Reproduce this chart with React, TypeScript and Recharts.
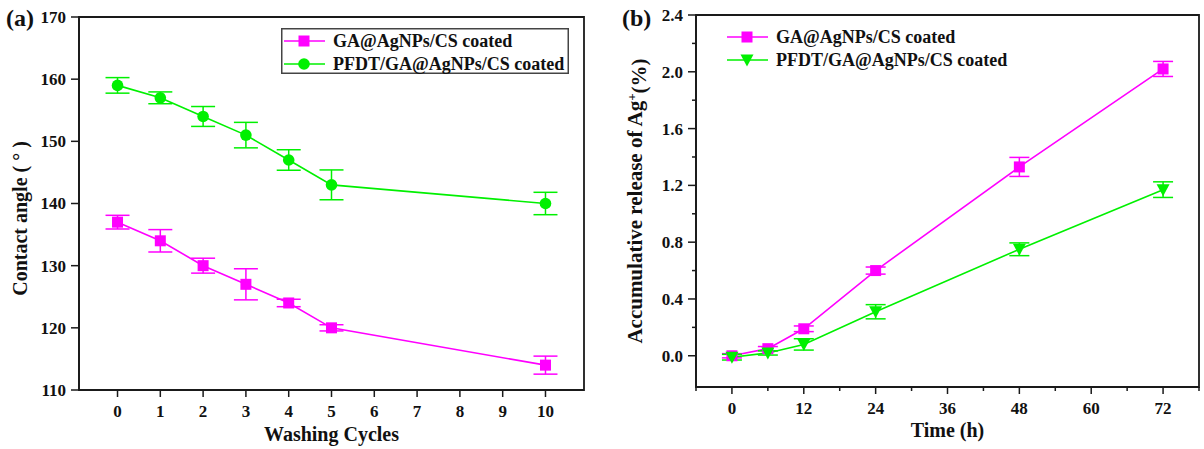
import React from "react";
import { LineChart, Line, XAxis, YAxis, ErrorBar, ReferenceArea, Legend } from "recharts";

// (a) contact angle vs washing cycles
const cycles = [0, 1, 2, 3, 4, 5, 10];
const gaAngle = [137, 134, 130, 127, 124, 120, 114];
const gaAngleErr = [1.1, 1.8, 1.2, 2.5, 0.6, 0.5, 1.45];
const pfdtAngle = [159, 157, 154, 151, 147, 143, 140];
const pfdtAngleErr = [1.25, 0.95, 1.6, 2.05, 1.65, 2.4, 1.8];
const cycleTicks = [0, 1, 2, 3, 4, 5, 6, 7, 8, 9, 10];
const angleTicks = [110, 120, 130, 140, 150, 160, 170];

// (b) Ag+ release vs time
const hours = [0, 6, 12, 24, 48, 72];
const gaRelease = [0, 0.05, 0.19, 0.6, 1.33, 2.02];
const gaReleaseErr = [0.015, 0.015, 0.02, 0.025, 0.067, 0.053];
const pfdtRelease = [-0.01, 0.02, 0.08, 0.31, 0.75, 1.17];
const pfdtReleaseErr = [0.02, 0.015, 0.04, 0.05, 0.045, 0.055];
const hourTicks = [-6, 0, 6, 12, 18, 24, 30, 36, 42, 48, 54, 60, 66, 72, 78];
const hourLabels = [0, 12, 24, 36, 48, 60, 72];
const releaseTicks = [0, 0.2, 0.4, 0.6, 0.8, 1, 1.2, 1.4, 1.6, 1.8, 2, 2.2, 2.4];
const releaseLabels = [0, 0.4, 0.8, 1.2, 1.6, 2, 2.4];

const MAGENTA = "#ff00ff";
const GREEN = "#00f000";
const INK = "#1a1a1a";
const FONT = '"Liberation Serif", "Times New Roman", serif';

const angleData = cycles.map((c, i) => ({
  cycle: c,
  ga: gaAngle[i],
  gaErr: gaAngleErr[i],
  pfdt: pfdtAngle[i],
  pfdtErr: pfdtAngleErr[i],
}));

const releaseData = hours.map((h, i) => ({
  time: h,
  ga: gaRelease[i],
  gaErr: gaReleaseErr[i],
  pfdt: pfdtRelease[i],
  pfdtErr: pfdtReleaseErr[i],
}));

type Shape = "square" | "circle" | "triangle";

function Marker({ shape, cx, cy, color }: { shape: Shape; cx: number; cy: number; color: string }) {
  if (shape === "square") return <rect x={cx - 5.5} y={cy - 5.5} width={11} height={11} fill={color} />;
  if (shape === "circle") return <circle cx={cx} cy={cy} r={5.8} fill={color} />;
  return <polygon points={`${cx - 6.5},${cy - 5.5} ${cx + 6.5},${cy - 5.5} ${cx},${cy + 6.5}`} fill={color} />;
}

const dotOf = (shape: Shape, color: string) => (p: any) => {
  if (p.cx == null || p.cy == null) return <g key={`d-${p.index}`} />;
  return <Marker key={`d-${shape}-${p.index}`} shape={shape} cx={p.cx} cy={p.cy} color={color} />;
};

const xTick = (labels: number[] | null) => (p: any) => {
  const v = p.payload.value;
  const major = !labels || labels.includes(v);
  return (
    <g>
      <line x1={p.x} x2={p.x} y1={p.y} y2={p.y + (major ? 7 : 4)} stroke={INK} strokeWidth={1.5} />
      {major && (
        <text x={p.x} y={p.y + 27} textAnchor="middle" fontFamily={FONT} fontWeight="bold" fontSize={17} fill="#111">
          {v}
        </text>
      )}
    </g>
  );
};

const yTick = (labels: number[] | null, fmt: (v: number) => string) => (p: any) => {
  const v = p.payload.value;
  const major = !labels || labels.some((l) => Math.abs(l - v) < 1e-6);
  return (
    <g>
      <line x1={p.x} x2={p.x - (major ? 8 : 4)} y1={p.y} y2={p.y} stroke={INK} strokeWidth={1.5} />
      {major && (
        <text x={p.x - 13} y={p.y} dy="0.35em" textAnchor="end" fontFamily={FONT} fontWeight="bold" fontSize={17} fill="#111">
          {fmt(v)}
        </text>
      )}
    </g>
  );
};

const XTitle = ({ viewBox, text, dy }: any) => (
  <text x={viewBox.x + viewBox.width / 2} y={viewBox.y + dy} textAnchor="middle" fontFamily={FONT} fontWeight="bold" fontSize={20} fill="#111">
    {text}
  </text>
);

const YTitle = ({ viewBox, children, cx, cyShift, tag, tagX, size = 20 }: any) => {
  const cy = viewBox.y + viewBox.height / 2 + cyShift;
  return (
    <g>
      <text x={tagX} y={26} fontFamily={FONT} fontWeight="bold" fontSize={24} fill="#111">
        {tag}
      </text>
      <text
        x={cx}
        y={cy}
        transform={`rotate(-90, ${cx}, ${cy})`}
        textAnchor="middle"
        dy="0.35em"
        fontFamily={FONT}
        fontWeight="bold"
        fontSize={size}
        fill="#111"
      >
        {children}
      </text>
    </g>
  );
};

const shapeMap: Record<string, Record<string, Shape>> = {
  a: { ga: "square", pfdt: "circle" },
  b: { ga: "square", pfdt: "triangle" },
};

const LegendRows = ({ payload, panel, boxed }: any) => {
  const w = boxed ? 288 : 300;
  const h = boxed ? 46 : 50;
  const x0 = boxed ? 3 : 0;
  const y0 = boxed ? 13 : 10;
  return (
    <svg width={w} height={h} style={{ display: "block", overflow: "visible" }}>
      {boxed && <rect x={0.75} y={0.75} width={w - 1.5} height={h - 1.5} fill="#fff" stroke="#444" strokeWidth={1.5} />}
      {(payload || []).map((e: any, i: number) => {
        const y = y0 + i * 23;
        return (
          <g key={e.value}>
            <line x1={x0} x2={x0 + 41} y1={y} y2={y} stroke={e.color} strokeWidth={1.6} />
            <Marker shape={shapeMap[panel][e.dataKey]} cx={x0 + 20} cy={y} color={e.color} />
            <text x={x0 + 49} y={y} dy="0.35em" fontFamily={FONT} fontWeight="bold" fontSize={18} fill="#111">
              {e.value}
            </text>
          </g>
        );
      })}
    </svg>
  );
};

function ContactAngleChart() {
  return (
    <LineChart width={600} height={449} data={angleData} margin={{ top: 17, right: 16, bottom: 0, left: 0 }}>
      <XAxis
        dataKey="cycle"
        type="number"
        domain={[-0.9, 10.9]}
        allowDataOverflow
        ticks={cycleTicks}
        interval={0}
        height={59}
        tickSize={0}
        tickMargin={0}
        tickLine={false}
        tick={xTick(null)}
        axisLine={{ stroke: INK, strokeWidth: 1.8 }}
        label={<XTitle text="Washing Cycles" dy={51} />}
      />
      <YAxis
        type="number"
        domain={[110, 170]}
        allowDataOverflow
        ticks={angleTicks}
        interval={0}
        width={79}
        tickSize={0}
        tickMargin={0}
        tickLine={false}
        tick={yTick(null, (v) => String(v))}
        axisLine={{ stroke: INK, strokeWidth: 1.8 }}
        label={
          <YTitle cx={20} cyShift={15} tag="(a)" tagX={6}>
            Contact angle ( ° )
          </YTitle>
        }
      />
      <ReferenceArea x1={-0.9} x2={10.9} y1={110} y2={170} fill="none" stroke={INK} strokeWidth={1.8} ifOverflow="visible" />
      <Legend
        layout="vertical"
        align="center"
        verticalAlign="middle"
        wrapperStyle={{ left: 281, top: 28, width: 288, height: 46 }}
        content={(props: any) => <LegendRows {...props} panel="a" boxed />}
      />
      <Line
        name="GA@AgNPs/CS coated"
        dataKey="ga"
        stroke={MAGENTA}
        strokeWidth={1.6}
        dot={dotOf("square", MAGENTA)}
        activeDot={false}
        isAnimationActive={false}
      >
        <ErrorBar dataKey="gaErr" direction="y" width={12} stroke={MAGENTA} strokeWidth={1.5} />
      </Line>
      <Line
        name="PFDT/GA@AgNPs/CS coated"
        dataKey="pfdt"
        stroke={GREEN}
        strokeWidth={1.6}
        dot={dotOf("circle", GREEN)}
        activeDot={false}
        isAnimationActive={false}
      >
        <ErrorBar dataKey="pfdtErr" direction="y" width={12} stroke={GREEN} strokeWidth={1.5} />
      </Line>
    </LineChart>
  );
}

function ReleaseChart() {
  return (
    <LineChart width={604} height={449} data={releaseData} margin={{ top: 15, right: 5, bottom: 0, left: 0 }}>
      <XAxis
        dataKey="time"
        type="number"
        domain={[-6, 78]}
        allowDataOverflow
        ticks={hourTicks}
        interval={0}
        height={62}
        tickSize={0}
        tickMargin={0}
        tickLine={false}
        tick={xTick(hourLabels)}
        axisLine={{ stroke: INK, strokeWidth: 1.8 }}
        label={<XTitle text="Time (h)" dy={50} />}
      />
      <YAxis
        type="number"
        domain={[-0.22, 2.4]}
        allowDataOverflow
        ticks={releaseTicks}
        interval={0}
        width={96}
        tickSize={0}
        tickMargin={0}
        tickLine={false}
        tick={yTick(releaseLabels, (v) => v.toFixed(1))}
        axisLine={{ stroke: INK, strokeWidth: 1.8 }}
        label={
          <YTitle cx={35} cyShift={0} tag="(b)" tagX={22} size={21}>
            Accumulative release of Ag
            <tspan dy="-0.5em" fontSize={13}>+</tspan>
            <tspan dy="0.5em">(%)</tspan>
          </YTitle>
        }
      />
      <ReferenceArea x1={-6} x2={78} y1={-0.22} y2={2.4} fill="none" stroke={INK} strokeWidth={1.8} ifOverflow="visible" />
      <Legend
        layout="vertical"
        align="center"
        verticalAlign="middle"
        wrapperStyle={{ left: 127, top: 27, width: 300, height: 50 }}
        content={(props: any) => <LegendRows {...props} panel="b" />}
      />
      <Line
        name="GA@AgNPs/CS coated"
        dataKey="ga"
        stroke={MAGENTA}
        strokeWidth={1.6}
        dot={dotOf("square", MAGENTA)}
        activeDot={false}
        isAnimationActive={false}
      >
        <ErrorBar dataKey="gaErr" direction="y" width={10} stroke={MAGENTA} strokeWidth={1.5} />
      </Line>
      <Line
        name="PFDT/GA@AgNPs/CS coated"
        dataKey="pfdt"
        stroke={GREEN}
        strokeWidth={1.6}
        dot={dotOf("triangle", GREEN)}
        activeDot={false}
        isAnimationActive={false}
      >
        <ErrorBar dataKey="pfdtErr" direction="y" width={10} stroke={GREEN} strokeWidth={1.5} />
      </Line>
    </LineChart>
  );
}

export default function App() {
  return (
    <div style={{ position: "absolute", left: 0, top: 0, width: 1204, height: 449, background: "#fff", overflow: "hidden" }}>
      <div style={{ position: "absolute", left: 0, top: 0 }}>
        <ContactAngleChart />
      </div>
      <div style={{ position: "absolute", left: 600, top: 0 }}>
        <ReleaseChart />
      </div>
    </div>
  );
}
